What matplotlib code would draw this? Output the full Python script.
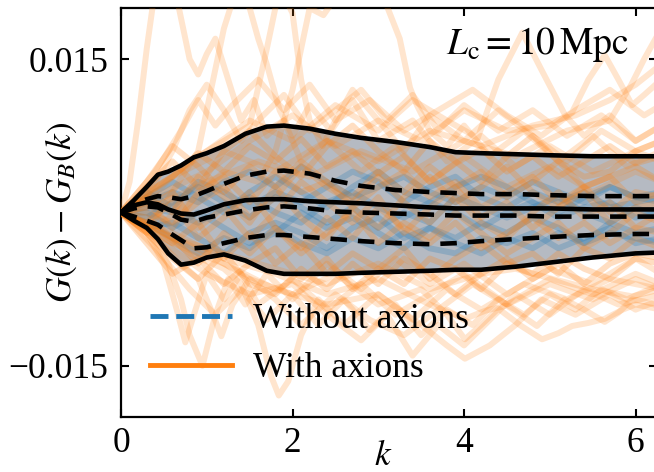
import numpy as np
import matplotlib
matplotlib.use("Agg")
import matplotlib.pyplot as plt
from matplotlib.lines import Line2D

plt.rcParams['font.family'] = ['Liberation Serif', 'DejaVu Serif']
plt.rcParams['mathtext.fontset'] = 'stix'

# ---------------- data (values in units of 1e-3) ----------------
SCALE = 1e-3
k_stat = [0, 0.15, 0.3, 0.43, 0.55, 0.7, 0.85, 1.0, 1.2, 1.45, 1.7, 1.9, 2.2, 2.5, 2.8, 3.2, 3.6, 3.9, 4.2, 4.6, 5.0, 5.5, 6.0, 6.3]
with_upper = [0, 1.2, 2.5, 3.7, 4.0, 4.6, 5.4, 5.8, 6.5, 7.7, 8.4, 8.5, 8.2, 7.7, 7.3, 6.9, 6.4, 5.9, 5.8, 5.7, 5.6, 5.5, 5.5, 5.5]
with_median = [0, 0.7, 1.0, 0.8, 0.3, -0.1, -0.2, 0.2, 0.8, 1.2, 1.3, 1.3, 1.1, 1.0, 0.9, 0.7, 0.5, 0.4, 0.4, 0.4, 0.4, 0.3, 0.3, 0.3]
with_lower = [0, -0.8, -1.5, -2.6, -4.0, -5.1, -4.9, -4.4, -4.1, -4.7, -5.7, -6.0, -6.0, -6.0, -5.9, -5.8, -5.7, -5.6, -5.6, -5.3, -4.9, -4.4, -4.0, -3.9]
without_upper = [0, 0.8, 1.3, 1.6, 1.5, 1.3, 1.6, 2.1, 2.8, 3.6, 4.0, 4.1, 3.8, 3.1, 2.6, 2.2, 2.0, 1.9, 1.8, 1.8, 1.7, 1.6, 1.6, 1.6]
without_median = [0, 0.4, 0.6, 0.5, 0.0, -0.7, -0.9, -0.5, -0.2, 0.2, 0.5, 0.6, 0.4, 0.1, 0.0, -0.1, -0.2, -0.3, -0.3, -0.3, -0.4, -0.4, -0.4, -0.4]
without_lower = [0, -0.4, -0.8, -1.2, -1.9, -2.7, -3.5, -3.4, -3.0, -2.5, -2.2, -2.2, -2.4, -2.6, -2.8, -3.0, -3.1, -3.0, -2.8, -2.6, -2.4, -2.2, -2.1, -2.1]

k_core = [0, 0.3, 0.6, 0.9, 1.2, 1.5, 1.8, 2.1, 2.4, 2.7, 3.0, 3.3, 3.6, 3.9, 4.2, 4.5, 4.8, 5.1, 5.4, 5.7, 6.0, 6.3]
orange_core = [
    [0, 2.0, 3.5, 5.8, 4.0, 6.5, 5.0, 7.2, 4.5, 6.0, 3.8, 5.5, 3.0, 4.8, 6.2, 4.0, 5.5, 3.5, 5.0, 6.5, 4.8, 5.5],
    [0, 1.0, -1.5, 2.0, 3.5, 1.0, 4.0, 2.0, 3.0, 0.5, 2.5, 4.0, 1.5, 3.0, 0.5, 2.0, 3.5, 1.0, 2.5, 0.0, 2.0, 1.5],
    [0, -1.5, -3.0, -1.0, -4.5, -2.0, -5.0, -3.0, -6.0, -4.0, -5.5, -3.5, -6.5, -4.5, -3.0, -5.0, -4.0, -6.0, -3.5, -4.5, -2.5, -3.5],
    [0, 0.5, 2.0, -1.5, 0.5, -2.5, 0.0, 3.0, 1.0, -1.0, 1.5, -2.0, 0.5, 2.5, -0.5, 1.0, -1.5, 0.5, 2.0, -1.0, 0.5, 1.0],
    [0, -0.5, -2.5, -5.0, -2.0, -4.0, -1.5, -3.5, -0.5, -2.5, 0.5, -1.5, -3.0, -1.0, -3.5, -2.0, -0.5, -2.5, -1.0, -3.0, -1.5, -2.0],
    [0, 2.5, 5.0, 2.5, 6.0, 8.0, 5.5, 3.5, 6.5, 8.5, 6.0, 4.0, 7.0, 5.0, 3.0, 5.5, 7.5, 5.0, 3.5, 4.0, 6.0, 7.0],
    [0, -2.0, -4.5, -6.5, -4.0, -7.0, -8.0, -5.5, -7.5, -5.0, -7.0, -4.5, -6.0, -8.0, -6.0, -4.5, -6.5, -5.0, -7.0, -5.0, -4.0, -4.5],
    [0, 1.5, 0.0, 3.5, 1.5, -1.0, 2.5, -0.5, -2.5, 0.5, -1.5, 1.5, 3.5, 1.0, 2.5, 4.5, 2.0, 0.5, 2.5, 3.5, 1.0, 2.0],
    [0, -1.0, 1.0, -2.5, -0.5, 2.0, -1.5, -4.0, -2.0, 0.0, -3.0, -1.0, -2.5, 0.0, -2.0, -4.0, -2.5, -1.0, -3.5, -2.0, 0.0, -1.0],
    [0, 3.0, 6.5, 4.5, 2.0, 4.5, 2.5, 5.0, 3.0, 1.5, 4.0, 2.0, 4.5, 2.5, 4.0, 1.5, 3.0, 5.0, 2.5, 3.5, 4.5, 3.0],
    [0, -3.0, -6.0, -4.5, -7.0, -5.0, -3.5, -6.5, -4.5, -7.5, -5.5, -7.0, -4.5, -5.5, -7.5, -5.0, -6.0, -4.0, -5.5, -6.5, -4.5, -5.0],
    [0, 0.0, -1.0, 1.0, 2.5, -0.5, 1.5, 4.5, 2.5, 1.0, 3.5, 1.0, -1.0, 1.5, -1.0, -2.5, 0.0, 2.0, -0.5, 1.0, -1.5, 0.0],
]
blue_core = [
    [0, 1.0, 2.0, 1.0, 3.0, 4.0, 2.5, 4.5, 3.0, 1.5, 2.5, 3.5, 2.0, 1.0, 2.5, 1.5, 3.0, 2.0, 1.0, 2.5, 1.5, 2.0],
    [0, -1.0, -2.5, -4.0, -2.5, -3.5, -1.5, -3.0, -4.0, -2.5, -3.5, -2.0, -3.5, -4.0, -2.5, -3.0, -2.0, -3.5, -2.5, -1.5, -3.0, -2.5],
    [0, 0.5, 0.0, -1.0, 0.5, 1.5, 0.0, -1.0, 1.0, 2.0, 0.5, -0.5, 1.0, 0.0, -1.5, 0.0, 1.0, -0.5, 0.5, 1.0, -0.5, 0.0],
    [0, -0.5, 1.0, 2.5, 1.0, -0.5, 1.5, 0.5, -1.0, 0.5, -1.5, 0.0, -1.0, 1.5, 0.5, -0.5, 0.5, 1.5, 0.0, -1.0, 0.5, -0.5],
    [0, 1.5, 3.0, 1.5, 0.0, 2.0, 3.5, 2.0, 0.5, 2.5, 4.0, 2.0, 1.0, 2.5, 3.5, 2.5, 1.0, 0.0, 1.5, 2.5, 1.5, 1.0],
    [0, -1.5, -1.0, -2.5, -4.0, -2.0, -1.0, -2.0, -3.5, -1.5, -0.5, -2.5, -1.5, -3.0, -4.0, -2.5, -3.5, -2.0, -3.0, -2.0, -2.5, -3.0],
    [0, 0.0, -1.5, 0.0, -1.5, -3.0, -2.0, 0.0, -1.5, -0.5, -2.0, -3.5, -1.5, -2.5, -1.0, -2.0, -0.5, -1.5, -3.0, -1.0, -2.0, -1.5],
    [0, 2.0, 0.5, 3.0, 2.0, 0.5, 2.0, 1.0, 2.5, 4.0, 3.0, 1.0, 2.5, 3.5, 1.5, 0.5, 2.0, 1.0, 2.0, 0.5, 1.0, 1.5],
]

# outer "with axions" excursions: (k knots, values)
orange_outer = [
    ([0, .1, .2, .3, .4, .5, .6, .7, .8, .9, 1.0, 1.1, 1.25, 1.4, 1.55, 1.7, 1.9, 2.1, 2.4, 2.8, 3.2, 3.6, 4.0, 4.5, 5.0, 5.5, 6.0, 6.3],
     [0, 3, 9, 16, 22, 25, 23, 19, 15, 13.5, 15.5, 17, 13, 9, 11, 7.5, 9, 5, 7, 4, 6.5, 3, 5.5, 2.5, 4.5, 2, 4, 3]),
    ([0, .3, .6, .9, 1.05, 1.2, 1.35, 1.5, 1.6, 1.7, 1.85, 2.0, 2.2, 2.45, 2.7, 3.0, 3.4, 3.8, 4.2, 4.6, 5.0, 5.5, 6.0, 6.3],
     [0, -2, 2, 6, 12, 18, 22, 20, 17, 14.5, 10, 7.5, 10.5, 8, 11, 7, 9, 5, 7.5, 4.5, 6.5, 4, 6, 5]),
    ([0, .4, .8, 1.2, 1.5, 1.7, 1.85, 2.0, 2.1, 2.2, 2.35, 2.5, 2.7, 3.0, 3.3, 3.6, 4.0, 4.4, 4.8, 5.2, 5.6, 6.0, 6.3],
     [0, 2, 5, 7, 8.5, 16, 22, 19.5, 13, 9, 6.5, 9, 12, 9, 6, 9.5, 7, 10, 7.5, 5, 8, 6, 7]),
    ([0, .4, .8, 1.2, 1.6, 1.8, 2.0, 2.2, 2.36, 2.5, 2.8, 3.1, 3.25, 3.37, 3.45, 3.6, 3.8, 4.0, 4.3, 4.7, 5.1, 5.5, 5.9, 6.3],
     [0, -1.5, 1, 4, 3, 6, 12, 20, 19.3, 21, 24, 20.2, 17, 12.2, 10.5, 8, 6.5, 8.5, 5.5, 8, 5, 7.5, 4.5, 6]),
    ([0, .5, 1.0, 1.5, 2.0, 2.5, 3.0, 3.4, 3.8, 4.16, 4.4, 4.68, 4.9, 5.18, 5.4, 5.7, 6.0, 6.3],
     [0, 3, 6, 9, 7, 10.5, 8, 11, 9, 7.3, 13, 17.6, 14, 9.5, 7.5, 9.5, 7, 8.5]),
    ([0, .5, 1.0, 1.5, 2.0, 2.5, 3.0, 3.5, 4.0, 4.5, 5.0, 5.26, 5.45, 5.64, 5.8, 5.96, 6.1, 6.3],
     [0, 2, 4, 7, 9.5, 6.5, 9, 7, 10, 8, 8.5, 9.8, 13, 15.4, 13, 10.5, 11.5, 13]),
    ([0, .6, 1.2, 1.8, 2.4, 3.0, 3.6, 4.2, 4.8, 5.3, 5.7, 6.0, 6.3],
     [0, 3.5, 6, 4, 7, 5, 8, 6.5, 8.5, 9.5, 11, 12.5, 14.5]),
    ([0, .5, 1.0, 1.6, 2.2, 2.8, 3.4, 4.0, 4.6, 5.2, 5.7, 5.95, 6.1, 6.3],
     [0, 1, 3, 5, 3.5, 6, 4, 7, 5.5, 8, 9, 12.5, 15, 18]),
    ([0, .3, .6, .8, 1.0, 1.2, 1.4, 1.6, 1.9, 2.2, 2.5, 2.8, 3.1, 3.4, 3.7, 4.0, 4.4, 4.8, 5.2, 5.6, 6.0, 6.3],
     [0, 1.5, 6, 10, 12.5, 10, 7, 9, 11.5, 8, 10, 12, 9, 11.5, 8, 10.5, 8, 10, 7.5, 9.5, 7, 8.5]),
    ([0, .4, .7, .9, 1.1, 1.3, 1.6, 1.9, 2.2, 2.5, 2.9, 3.3, 3.7, 4.1, 4.5, 4.9, 5.3, 5.7, 6.1, 6.3],
     [0, 4, 8, 11, 8.5, 10.5, 13, 10, 12.5, 9, 11, 8, 10, 12, 9.5, 7.5, 10, 12, 9.5, 10.5]),
    ([0, .2, .4, .55, .7, .8, .95, 1.1, 1.25, 1.45, 1.7, 2.0, 2.4, 2.8, 3.2, 3.6, 4.0, 4.5, 5.0, 5.5, 6.0, 6.3],
     [0, -1, -3, -5, -8.5, -12, -15, -10, -6.5, -9, -6, -8.5, -5, -7.5, -4.5, -7, -5, -8, -5.5, -7, -4.5, -6]),
    ([0, .3, .5, .65, .75, .85, 1.0, 1.2, 1.4, 1.6, 2.0, 2.4, 2.8, 3.2, 3.6, 4.0, 4.5, 5.0, 5.5, 6.0, 6.3],
     [0, -2, -5, -9.5, -12.7, -10, -6, -8.5, -6, -9, -6.5, -9.5, -7, -10, -8, -6, -9, -7, -8.5, -6.5, -7.5]),
    ([0, .4, .8, 1.2, 1.4, 1.6, 1.75, 1.84, 1.95, 2.1, 2.3, 2.6, 3.0, 3.4, 3.8, 4.2, 4.7, 5.2, 5.7, 6.3],
     [0, -1.5, -4, -5.5, -7, -11, -16, -17.9, -16.5, -12, -8.5, -11, -8, -10.5, -7.5, -9.5, -7, -8.5, -6.5, -7.5]),
    ([0, .4, .7, .9, 1.05, 1.17, 1.3, 1.5, 1.8, 2.1, 2.5, 2.9, 3.3, 3.7, 4.1, 4.5, 5.0, 5.5, 6.0, 6.3],
     [0, -2.5, -5, -6.5, -9.5, -12.1, -9, -6.5, -8.5, -11, -8, -10.5, -12, -9.5, -7, -9, -6.5, -8, -6, -7]),
    ([0, .5, 1.0, 1.5, 2.0, 2.4, 2.8, 3.1, 3.4, 3.7, 4.0, 4.3, 4.6, 5.0, 5.4, 5.8, 6.3],
     [0, -3, -6, -8, -7, -10, -12.5, -10, -14, -11, -13, -10.5, -8, -10, -7.5, -9, -8]),
    ([0, .5, 1.0, 1.5, 2.0, 2.5, 3.0, 3.5, 3.8, 4.01, 4.2, 4.4, 4.65, 4.91, 5.1, 5.26, 5.45, 5.64, 5.85, 6.0, 6.3],
     [0, -2, -4, -6.5, -8, -6, -9, -7.5, -10, -12.4, -11, -9.4, -11, -12.4, -11.8, -11.1, -10.8, -10.4, -9.5, -9, -9.5]),
    ([0, .6, 1.2, 1.8, 2.4, 3.0, 3.5, 3.8, 4.01, 4.3, 4.6, 4.9, 5.3, 5.7, 6.0, 6.3],
     [0, -3, -5, -7.5, -9, -8, -11, -13, -14.3, -13, -11, -8.5, -10, -8, -9.5, -8.5]),
    ([0, .6, 1.2, 1.8, 2.4, 3.0, 3.6, 4.01, 4.25, 4.5, 4.85, 5.17, 5.4, 5.64, 5.8, 5.96, 6.1, 6.3],
     [0, -2, -4.5, -6, -8, -6.5, -9, -10.4, -9.6, -9.1, -11.1, -8.5, -9.5, -10.7, -9.8, -8.5, -8.7, -9.2]),
    ([0, .6, 1.2, 1.8, 2.4, 3.0, 3.6, 4.2, 4.6, 5.03, 5.5, 5.96, 6.3],
     [0, -2.5, -4, -5.5, -7, -5, -7.5, -6, -5.5, -6.5, -7.5, -8.2, -7.5]),
    ([0, .4, .8, 1.1, 1.4, 1.7, 2.0, 2.3, 2.6, 2.9, 3.2, 3.5, 3.8, 4.1, 4.4, 4.7, 5.0, 5.3, 5.6, 5.9, 6.3],
     [0, -3.5, -7.5, -10, -7.5, -10.5, -8, -11, -8.5, -11.5, -9, -12, -9.5, -11, -8.5, -10, -8, -9.5, -7.5, -8.5, -7]),
]

legend_labels = ["Without axions", "With axions"]
annotation = r"$L_{\rm c} = 10\,{\rm Mpc}$"
yticks = [-0.015, 0.015]
xticks = [0, 2, 4, 6]

# ---------------- plot ----------------
FS = 25.5
fig = plt.figure(figsize=(6.54, 4.72), dpi=100)
ax = fig.add_axes([121/654, 55/472, 536/654, 409/472])

def s(v):
    return np.asarray(v) * SCALE

ax.fill_between(k_stat, s(with_lower), s(with_upper), color=(0.71, 0.73, 0.76), lw=0, zorder=1)
for v in blue_core:
    ax.plot(k_core, s(v), color='tab:blue', alpha=0.25, lw=4.3, zorder=2)
for v in orange_core:
    ax.plot(k_core, s(v), color='tab:orange', alpha=0.25, lw=4.3, zorder=3)
for kk, v in orange_outer:
    ax.plot(kk, s(v), color='tab:orange', alpha=0.2, lw=4.3, zorder=3)

dash = (0, (3.6, 2.4))
LW = 3.3
ax.plot(k_stat, s(with_upper), color='k', lw=LW, zorder=5)
ax.plot(k_stat, s(with_median), color='k', lw=LW, zorder=5)
ax.plot(k_stat, s(with_lower), color='k', lw=LW, zorder=5)
ax.plot(k_stat, s(without_upper), color='k', lw=LW, ls=dash, zorder=5)
ax.plot(k_stat, s(without_median), color='k', lw=LW, ls=dash, zorder=5)
ax.plot(k_stat, s(without_lower), color='k', lw=LW, ls=dash, zorder=5)

ax.set_xlim(0, 6.25)
ax.set_ylim(-0.02, 0.02)
ax.set_xticks(xticks)
ax.set_yticks(yticks)
ax.set_xticklabels([str(t) for t in xticks])
ax.set_yticklabels(["\u22120.015", "0.015"])
ax.tick_params(direction='in', top=True, right=True, length=6, width=1.5,
               labelsize=FS)
ax.tick_params(axis='y', pad=9)
ax.tick_params(axis='x', pad=7)
for sp in ax.spines.values():
    sp.set_linewidth(1.6)

ax.set_xlabel(r"$k$", fontsize=FS)
ax.set_ylabel(r"$G(k) - G_B(k)$", fontsize=FS)
ax.xaxis.set_label_coords(0.49, -0.056)
ax.yaxis.set_label_coords(-0.078, 0.5)

ax.text(0.946, 0.958, annotation, transform=ax.transAxes, ha='right', va='top',
        fontsize=27, zorder=6)

handles = [Line2D([], [], color='tab:blue', lw=3.5, ls='--'),
           Line2D([], [], color='tab:orange', lw=3.5, ls='-')]
ax.legend(handles, legend_labels, loc='lower left', frameon=False, fontsize=FS,
          handlelength=2.3, handletextpad=0.6, labelspacing=0.45,
          bbox_to_anchor=(-0.005, 0.0))

fig.savefig("out.png", dpi=100)
